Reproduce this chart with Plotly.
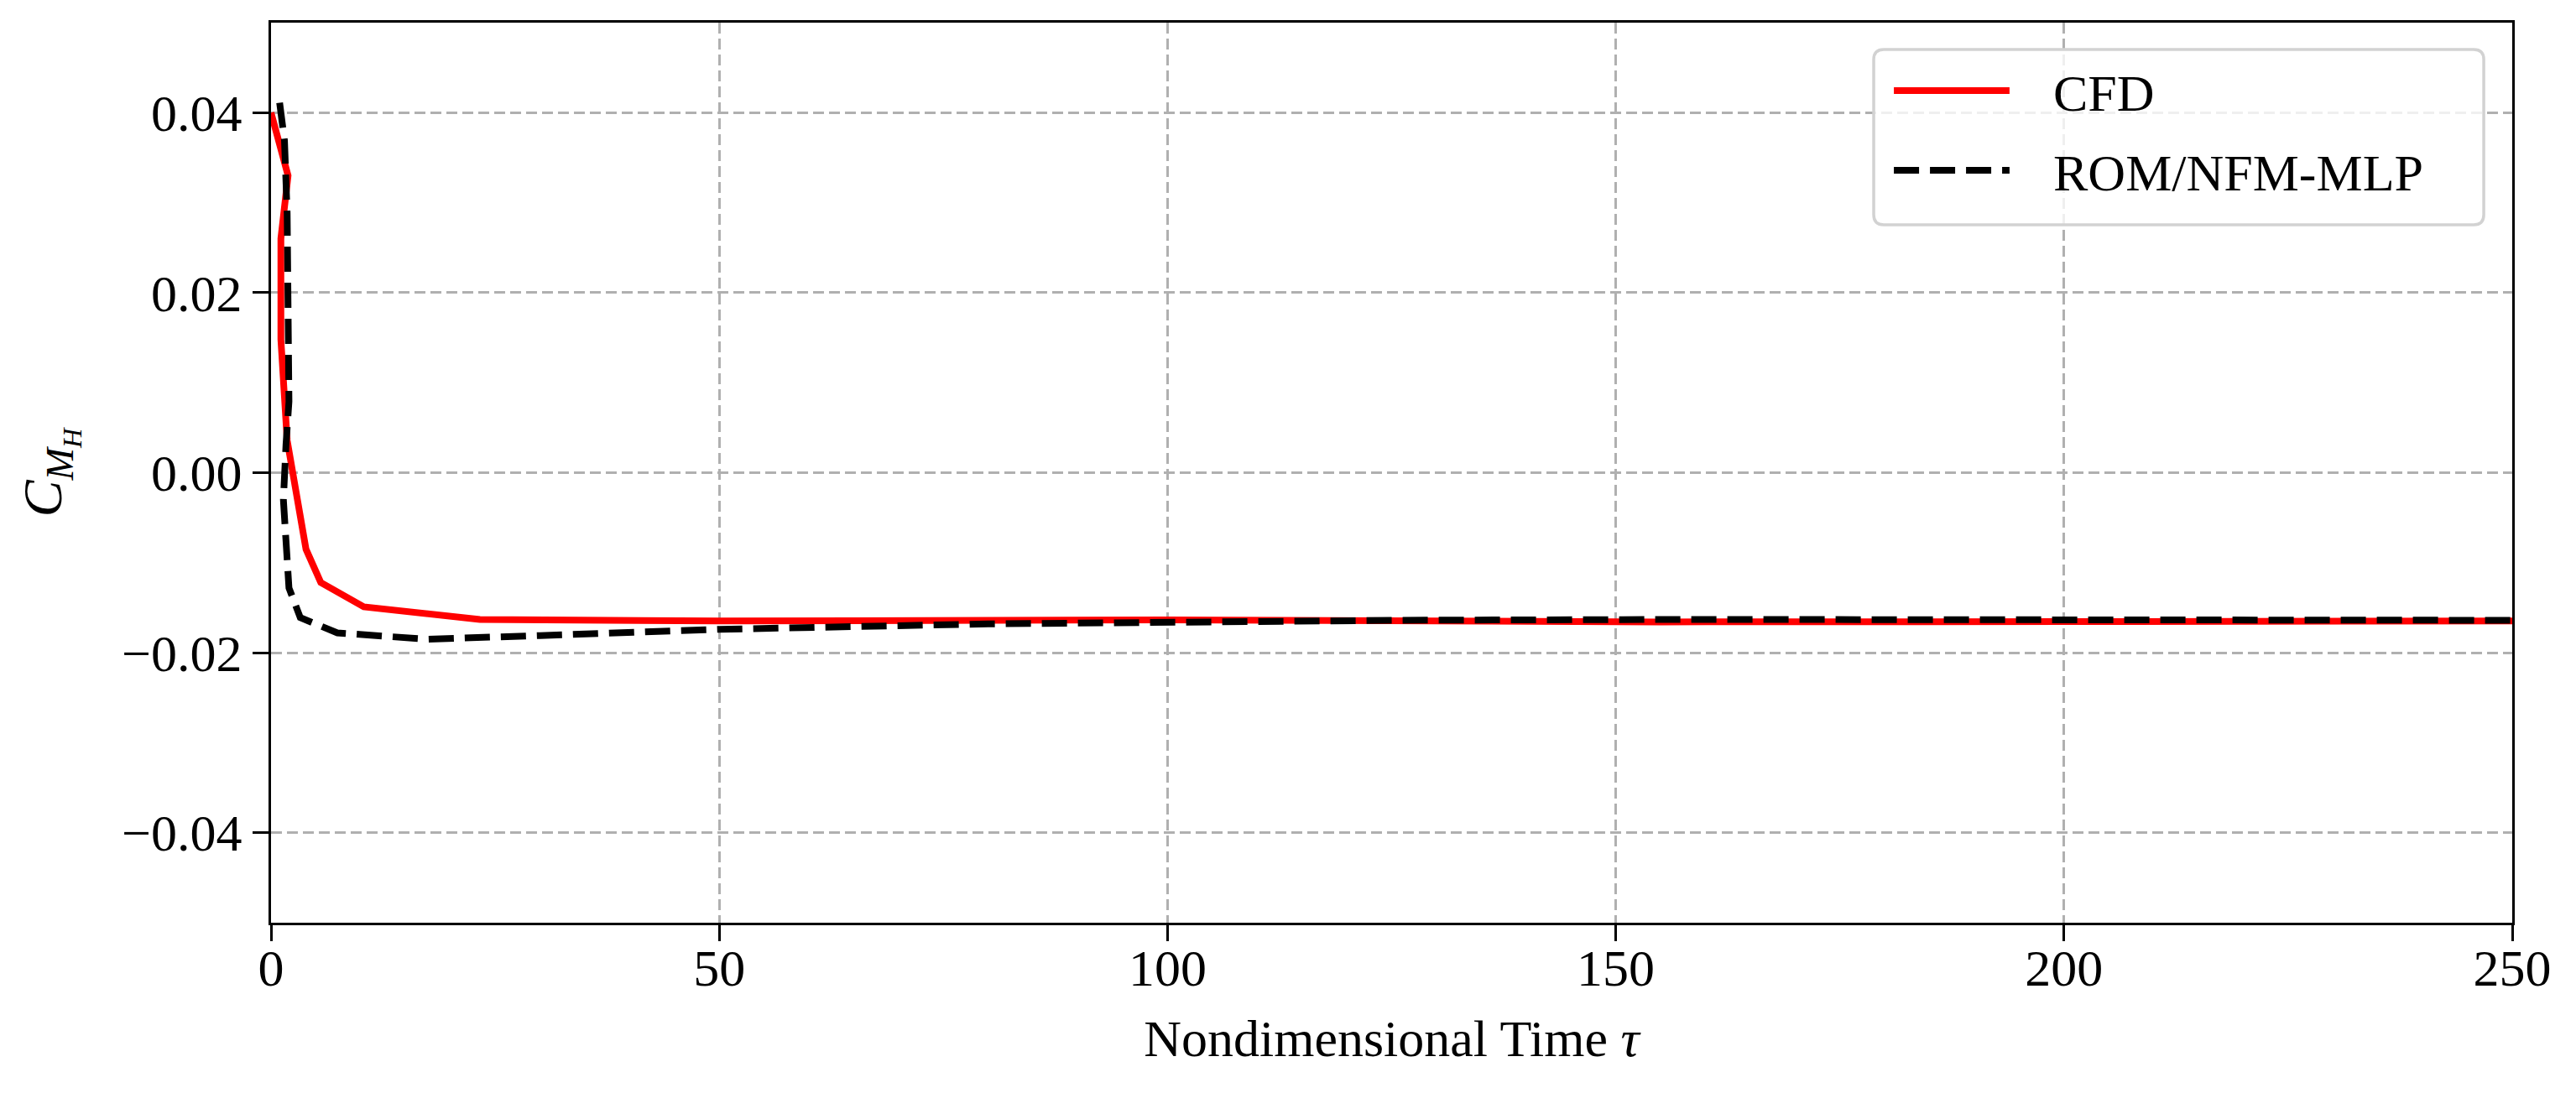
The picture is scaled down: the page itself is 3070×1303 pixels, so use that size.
import plotly.graph_objects as go

# CFD reference (red solid)
cfd_tau = [0.0, 1.9, 1.1, 1.1, 1.8, 3.9, 5.55, 10.35, 23.3, 50, 100, 155, 200, 250]
cfd_cm = [0.0400, 0.0330, 0.0260, 0.0148, 0.0036, -0.0085, -0.0122, -0.0149,
          -0.0163, -0.01648, -0.01635, -0.01658, -0.01655, -0.01648]

# ROM/NFM-MLP prediction (black dashed)
rom_tau = [0.96, 1.5, 1.8, 2.0, 1.67, 1.38, 2.0, 3.26, 7.4, 17.4, 30, 50, 80, 100,
           126, 157, 200, 250]
rom_cm = [0.0411, 0.0369, 0.0288, 0.0079, 0.0031, -0.0030, -0.0128, -0.0161,
          -0.0178, -0.0185, -0.0181, -0.0174, -0.0168, -0.01655, -0.0164,
          -0.0163, -0.01635, -0.0164]

series_names = ["CFD", "ROM/NFM-MLP"]
series_colors = ["#ff0000", "#000000"]
series_dash = ["solid", "30px,13px"]
x_ticks = [0, 50, 100, 150, 200, 250]
y_ticks = [-0.04, -0.02, 0.00, 0.02, 0.04]

FONT = "Liberation Serif"
FS = 62
LW = 8

fig = go.Figure()
fig.add_trace(go.Scatter(x=cfd_tau, y=cfd_cm, mode="lines", name=series_names[0],
                         line=dict(color=series_colors[0], width=LW, dash=series_dash[0])))
fig.add_trace(go.Scatter(x=rom_tau, y=rom_cm, mode="lines", name=series_names[1],
                         line=dict(color=series_colors[1], width=LW, dash=series_dash[1])))

axis_common = dict(
    showline=True, linecolor="black", linewidth=3.3, mirror=True,
    ticks="outside", ticklen=19, tickwidth=3.3, tickcolor="black",
    showgrid=True, gridcolor="#b0b0b0", gridwidth=3.3, griddash="13px,6px",
    zeroline=False, tickfont=dict(family=FONT, size=FS, color="black"),
    automargin=False,
)

# ---- legend box drawn in paper coordinates (matplotlib-style rounded frame)
lx0, lx1, ly0, ly1 = 0.7151, 0.9873, 0.7754, 0.9702
rx, ry = 0.0045, 0.0112
legend_path = (
    f"M {lx0+rx},{ly1} L {lx1-rx},{ly1} Q {lx1},{ly1} {lx1},{ly1-ry} "
    f"L {lx1},{ly0+ry} Q {lx1},{ly0} {lx1-rx},{ly0} "
    f"L {lx0+rx},{ly0} Q {lx0},{ly0} {lx0},{ly0+ry} "
    f"L {lx0},{ly1-ry} Q {lx0},{ly1} {lx0+rx},{ly1} Z"
)
shapes = [dict(type="path", path=legend_path, xref="paper", yref="paper",
               fillcolor="rgba(255,255,255,0.8)", line=dict(color="#d2d2d2", width=3.5),
               layer="above")]
annotations = []
entry_y = [0.9245, 0.8360]
for name, col, dsh, yy in zip(series_names, series_colors, series_dash, entry_y):
    shapes.append(dict(type="line", xref="paper", yref="paper",
                       x0=0.7241, x1=0.7757, y0=yy, y1=yy, layer="above",
                       line=dict(color=col, width=LW, dash=dsh)))
    annotations.append(dict(text=name, xref="paper", yref="paper", x=0.7945, y=yy,
                            xanchor="left", yanchor="middle", showarrow=False,
                            yshift=-3, font=dict(family=FONT, size=FS, color="black")))

# the page body adds an 8 px offset; margins compensate so the plot area
# lands at x 323..2994, y 27..1100 in the screenshot
fig.update_layout(
    width=3070, height=1303,
    margin=dict(l=315, r=84, t=19, b=211),
    paper_bgcolor="white", plot_bgcolor="white",
    font=dict(family=FONT, size=FS, color="black"),
    xaxis=dict(range=[0, 250], tickvals=x_ticks, ticklabelstandoff=-22,
               title=dict(text="Nondimensional Time <i>τ</i>", standoff=30,
                          font=dict(family=FONT, size=FS)),
               **axis_common),
    yaxis=dict(range=[-0.05, 0.05], tickvals=y_ticks, tickformat=".2f",
               ticklabelstandoff=0,
               title=dict(text="<i>C</i><sub><i>M</i><sub><i>H</i></sub></sub>",
                          standoff=50, font=dict(family=FONT, size=FS + 4)),
               **axis_common),
    shapes=shapes,
    annotations=annotations,
    showlegend=False,
)

fig.write_html("out.html")
